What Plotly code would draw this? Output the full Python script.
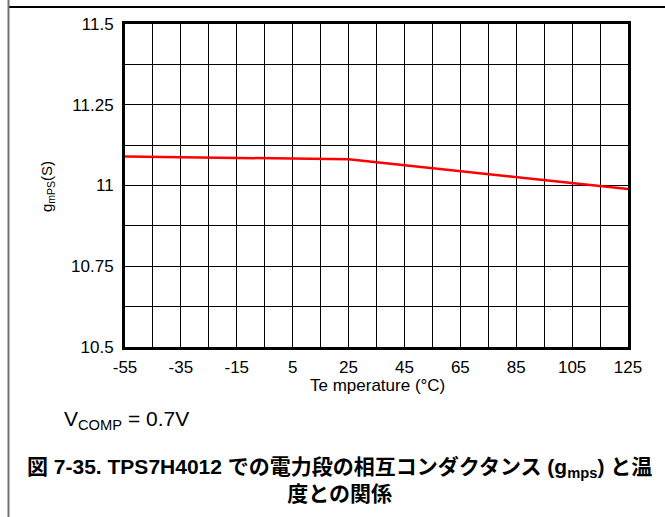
import plotly.graph_objects as go

# Data
temperature_c = [-55, 25, 125]
gmps_s = [11.090, 11.081, 10.989]

x_tick_vals = [-55, -35, -15, 5, 25, 45, 65, 85, 105, 125]
x_tick_text = ["-55", "-35", "-15", "5", "25", "45", "65", "85", "105", "125"]
y_tick_vals = [10.5, 10.75, 11, 11.25, 11.5]
y_tick_text = ["10.5", "10.75", "11", "11.25", "11.5"]

# Layout geometry (pixels)
W, H = 665, 517
ML, MR, MT, MB = 125, 37, 24, 170
PW = W - ML - MR
PH = H - MT - MB


def px(x):
    return (x - ML) / PW


def py(y):
    return (H - MB - y) / PH


FONT = "Liberation Sans, Arial, sans-serif"
CJK = "Liberation Sans, Arial, Noto Sans CJK JP, sans-serif"

fig = go.Figure()
fig.add_trace(go.Scatter(
    x=temperature_c, y=gmps_s, mode="lines",
    line=dict(color="#ff0000", width=2.5),
    showlegend=False, hoverinfo="skip",
))

grid = dict(showgrid=True, gridcolor="#000000", gridwidth=1)

fig.update_xaxes(
    range=[-55, 125], tickmode="array", tickvals=x_tick_vals, ticktext=x_tick_text,
    ticks="", ticklabelstandoff=3,
    tickfont=dict(family=FONT, size=17, color="#000000"),
    showline=True, linecolor="#000000", linewidth=3, mirror=True,
    zeroline=False,
    minor=dict(dtick=10, tick0=-55, **grid),
    **grid,
)
fig.update_yaxes(
    range=[10.5, 11.5], tickmode="array", tickvals=y_tick_vals, ticktext=y_tick_text,
    ticks="", ticklabelstandoff=5,
    tickfont=dict(family=FONT, size=17, color="#000000"),
    showline=True, linecolor="#000000", linewidth=3, mirror=True,
    zeroline=False,
    minor=dict(dtick=0.125, tick0=10.5, **grid),
    **grid,
)

annotations = [
    dict(text="Te mperature (°C)", x=px(377), y=py(385), xref="paper", yref="paper",
         xanchor="center", yanchor="middle", showarrow=False,
         font=dict(family=FONT, size=17, color="#000000")),
    dict(text="g<sub>mPS</sub>(S)", x=px(47), y=py(187), xref="paper", yref="paper",
         xanchor="center", yanchor="middle", showarrow=False, textangle=-90,
         font=dict(family=FONT, size=15, color="#000000")),
    dict(text="V<sub>COMP</sub> = 0.7V", x=px(62), y=py(420), xref="paper", yref="paper",
         xanchor="left", yanchor="middle", showarrow=False,
         font=dict(family=FONT, size=21, color="#000000")),
    dict(text="<b>図 7-35. TPS7H4012 での電力段の相互コンダクタンス (g<sub>mps</sub>) と温<br>度との関係</b>",
         x=px(339), y=py(480), xref="paper", yref="paper",
         xanchor="center", yanchor="middle", showarrow=False, align="center",
         font=dict(family=CJK, size=21, color="#000000")),
]

shapes = [
    dict(type="line", xref="paper", yref="paper", x0=px(9), x1=px(670), y0=py(7), y1=py(7),
         line=dict(color="#000000", width=2)),
    dict(type="line", xref="paper", yref="paper", x0=px(8.5), x1=px(8.5), y0=py(-5), y1=py(525),
         line=dict(color="#707070", width=2)),
]

fig.update_layout(
    width=W, height=H,
    margin=dict(l=ML, r=MR, t=MT, b=MB, autoexpand=False),
    paper_bgcolor="#ffffff", plot_bgcolor="#ffffff",
    annotations=annotations, shapes=shapes,
    font=dict(family=FONT, color="#000000"),
)

fig.write_html(
    "out.html",
    config={"displayModeBar": False, "staticPlot": True},
    post_script="document.body.style.margin='0';document.body.style.overflow='hidden';",
)
